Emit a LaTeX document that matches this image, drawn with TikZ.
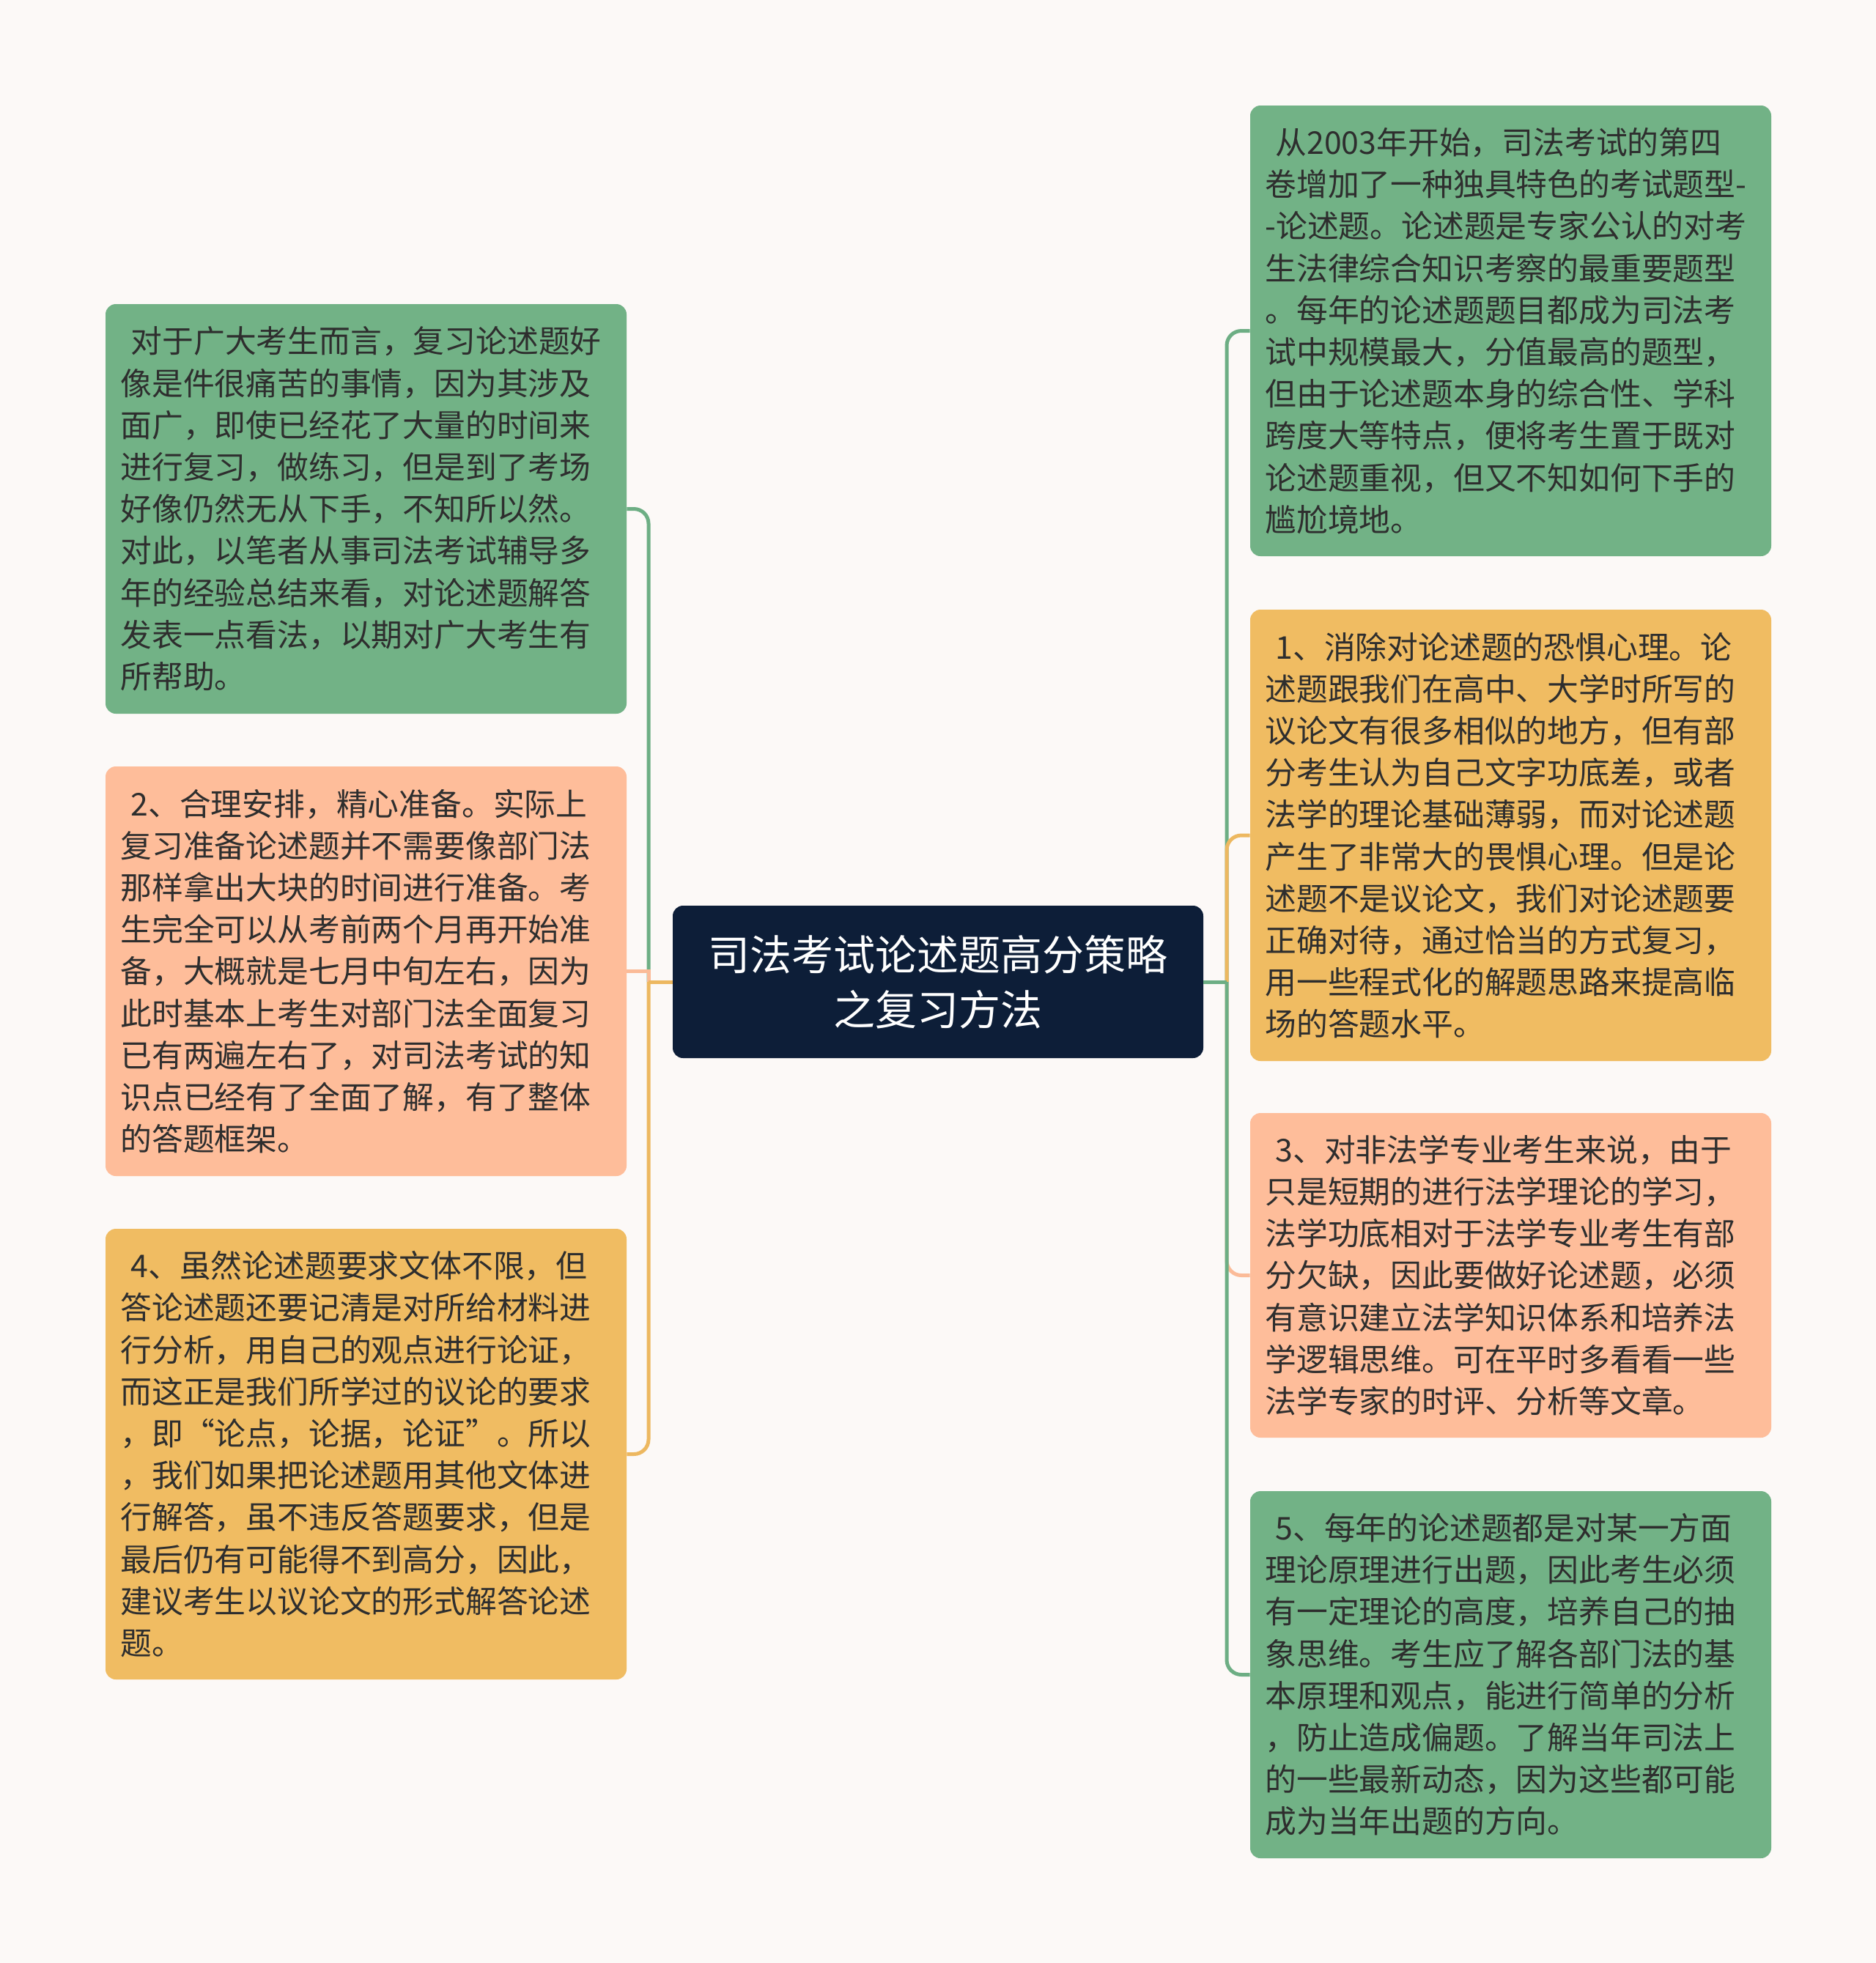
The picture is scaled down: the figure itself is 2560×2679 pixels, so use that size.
\documentclass[tikz,border=0pt]{standalone}
\usepackage{fontspec}
\setmainfont{Noto Sans CJK SC}
\definecolor{bgc}{HTML}{FCF9F7}
\definecolor{navy}{HTML}{0D1E38}
\definecolor{gbox}{HTML}{72B286}
\definecolor{obox}{HTML}{F0BC62}
\definecolor{sbox}{HTML}{FEBD9A}
\definecolor{gline}{HTML}{6DAE84}
\definecolor{oline}{HTML}{EDB860}
\definecolor{sline}{HTML}{FBBB98}
\definecolor{txt}{HTML}{2E2E2E}
\tikzset{
  leaf/.style={rectangle, rounded corners=7pt, minimum width=355.5pt, text width=335pt,
    inner xsep=10.25pt, inner ysep=0pt, align=left, text=txt,
    font=\fontsize{21.4pt}{28.6pt}\selectfont},
  root/.style={rectangle, rounded corners=7pt, fill=navy, minimum width=362pt, minimum height=104pt,
    text=white, align=center, inner sep=0pt, font=\fontsize{28.5pt}{37.6pt}\selectfont},
  conn/.style={line width=2.5pt},
  curvelink/.style={line width=2.5pt, rounded corners=10pt}
}
\newcommand{\ind}{\hspace*{0.33em}}
\begin{document}
\begin{tikzpicture}[x=0.5pt,y=-0.5pt]
\fill[bgc] (0,0) rectangle (2560,2679);
\useasboundingbox (0,0) rectangle (2560,2679);

\node[root] (c) at (1280,1340) {司法考试论述题高分策略\\之复习方法};

\node[leaf, fill=gbox, minimum height=279.5pt] (l1) at (499.5,694.5) {\ind 对于广大考生而言，复习论述题好\\像是件很痛苦的事情，因为其涉及\\面广，即使已经花了大量的时间来\\进行复习，做练习，但是到了考场\\好像仍然无从下手，不知所以然。\\对此，以笔者从事司法考试辅导多\\年的经验总结来看，对论述题解答\\发表一点看法，以期对广大考生有\\所帮助。};

\node[leaf, fill=sbox, minimum height=279.5pt] (l2) at (499.5,1325.5) {\ind 2、合理安排，精心准备。实际上\\复习准备论述题并不需要像部门法\\那样拿出大块的时间进行准备。考\\生完全可以从考前两个月再开始准\\备，大概就是七月中旬左右，因为\\此时基本上考生对部门法全面复习\\已有两遍左右了，对司法考试的知\\识点已经有了全面了解，有了整体\\的答题框架。};

\node[leaf, fill=obox, minimum height=307.5pt] (l3) at (499.5,1984.5) {\ind 4、虽然论述题要求文体不限，但\\答论述题还要记清是对所给材料进\\行分析，用自己的观点进行论证，\\而这正是我们所学过的议论的要求\\，即“论点，论据，论证”。所以\\，我们如果把论述题用其他文体进\\行解答，虽不违反答题要求，但是\\最后仍有可能得不到高分，因此，\\建议考生以议论文的形式解答论述\\题。};

\node[leaf, fill=gbox, minimum height=307.5pt] (r1) at (2061.5,451.5) {\ind 从2003年开始，司法考试的第四\\卷增加了一种独具特色的考试题型-\\-论述题。论述题是专家公认的对考\\生法律综合知识考察的最重要题型\\。每年的论述题题目都成为司法考\\试中规模最大，分值最高的题型，\\但由于论述题本身的综合性、学科\\跨度大等特点，便将考生置于既对\\论述题重视，但又不知如何下手的\\尴尬境地。};

\node[leaf, fill=obox, minimum height=308pt] (r2) at (2061.5,1140) {\ind 1、消除对论述题的恐惧心理。论\\述题跟我们在高中、大学时所写的\\议论文有很多相似的地方，但有部\\分考生认为自己文字功底差，或者\\法学的理论基础薄弱，而对论述题\\产生了非常大的畏惧心理。但是论\\述题不是议论文，我们对论述题要\\正确对待，通过恰当的方式复习，\\用一些程式化的解题思路来提高临\\场的答题水平。};

\node[leaf, fill=sbox, minimum height=221.5pt] (r3) at (2061.5,1740.5) {\ind 3、对非法学专业考生来说，由于\\只是短期的进行法学理论的学习，\\法学功底相对于法学专业考生有部\\分欠缺，因此要做好论述题，必须\\有意识建立法学知识体系和培养法\\学逻辑思维。可在平时多看看一些\\法学专家的时评、分析等文章。};

\node[leaf, fill=gbox, minimum height=250.5pt] (r4) at (2061.5,2285.5) {\ind 5、每年的论述题都是对某一方面\\理论原理进行出题，因此考生必须\\有一定理论的高度，培养自己的抽\\象思维。考生应了解各部门法的基\\本原理和观点，能进行简单的分析\\，防止造成偏题。了解当年司法上\\的一些最新动态，因为这些都可能\\成为当年出题的方向。};

\coordinate (lt) at (885,1340);
\coordinate (rt) at (1674,1340);

% left connectors
\draw[conn, gline] (c.west) -- (lt);
\draw[curvelink, gline] (lt) |- (l1.east);
\draw[conn, sline] (c.west) -- (lt);
\draw[conn, sline] (lt) |- (l2.east);
\draw[conn, oline] (c.west) -- (lt);
\draw[curvelink, oline] (lt) |- (l3.east);

% right connectors
\draw[conn, gline] (c.east) -- (rt);
\draw[curvelink, gline] (rt) |- (r1.west);
\draw[conn, oline] (c.east) -- (rt);
\draw[curvelink, oline] (rt) |- (r2.west);
\draw[conn, sline] (c.east) -- (rt);
\draw[curvelink, sline] (rt) |- (r3.west);
\draw[conn, gline] (c.east) -- (rt);
\draw[curvelink, gline] (rt) |- (r4.west);
\end{tikzpicture}
\end{document}
